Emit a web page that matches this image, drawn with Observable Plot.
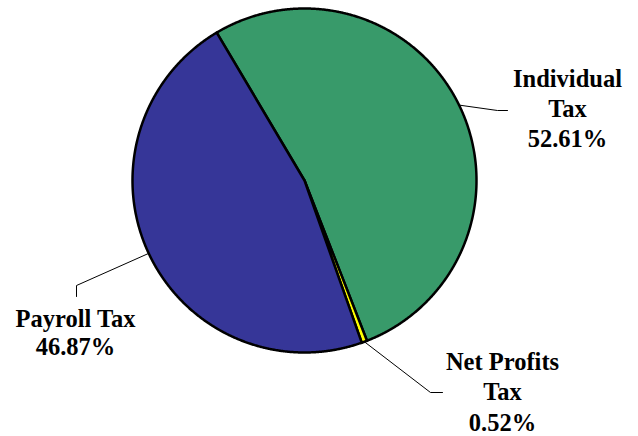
<!DOCTYPE html>
<html>
<head>
<meta charset="utf-8">
<script src="https://cdn.jsdelivr.net/npm/d3@7"></script>
<script src="https://cdn.jsdelivr.net/npm/@observablehq/plot@0.6"></script>
<style>
  html, body { margin: 0; padding: 0; background: #fff; }
  #chart svg { display: block; }
</style>
</head>
<body>
<div id="chart"></div>
<script>
// ---- data ----
const categories = ["Individual Tax", "Net Profits Tax", "Payroll Tax"];
const shares = [52.61, 0.52, 46.87];
const labelLines = [["Individual", "Tax", "52.61%"], ["Net Profits", "Tax", "0.52%"], ["Payroll Tax", "46.87%"]];
const colors = ["#389a6a", "#ffff00", "#363698"];

// ---- layout ----
const W = 638, H = 436;
const cx = 304, cy = 180, R = 172;
const startDeg = -30.7;
const FONT = "Liberation Serif";
const FS = 24.5;
const layout = [
  {elbow: [497, 110], end: [507, 110], tx: 567, ty: 146, lh: 30 / FS},
  {elbow: [430, 392], end: [442, 392], tx: 502, ty: 430, lh: 30.5 / FS},
  {elbow: [76, 285], end: [76, 296], tx: 75, ty: 354, lh: 28 / FS}
];

const pie = d3.pie().sort(null).value(d => d.value).startAngle(startDeg * Math.PI / 180).endAngle(startDeg * Math.PI / 180 + 2 * Math.PI);
const arcs = pie(categories.map((c, i) => ({name: c, value: shares[i], color: colors[i]})));

const pt = a => [cx + R * Math.sin(a), cy - R * Math.cos(a)];
const slicePts = [];
arcs.forEach(a => {
  slicePts.push({name: a.data.name, color: a.data.color, x: cx, y: cy});
  const n = Math.max(2, Math.ceil((a.endAngle - a.startAngle) / (0.25 * Math.PI / 180)));
  for (let k = 0; k <= n; k++) {
    const ang = a.startAngle + (a.endAngle - a.startAngle) * k / n;
    const [x, y] = pt(ang);
    slicePts.push({name: a.data.name, color: a.data.color, x, y});
  }
  slicePts.push({name: a.data.name, color: a.data.color, x: cx, y: cy});
});

const leaderPts = [];
const labels = [];
arcs.forEach((a, i) => {
  const mid = (a.startAngle + a.endAngle) / 2;
  const [x0, y0] = pt(mid);
  const L = layout[i];
  leaderPts.push({name: a.data.name, x: x0, y: y0});
  leaderPts.push({name: a.data.name, x: L.elbow[0], y: L.elbow[1]});
  leaderPts.push({name: a.data.name, x: L.end[0], y: L.end[1]});
  labels.push({text: labelLines[i].join("\n"), x: L.tx, y: L.ty, lh: L.lh});
});

const textMark = l => Plot.text([l], {
  x: "x", y: "y", text: "text", lineAnchor: "bottom", textAnchor: "middle",
  lineHeight: l.lh, fontSize: FS, fontWeight: "bold",
  fontFamily: FONT, fill: "#000"
});

const chart = Plot.plot({
  width: W, height: H,
  margin: 0,
  style: {fontFamily: FONT},
  x: {domain: [0, W], range: [0, W], axis: null},
  y: {domain: [0, H], range: [0, H], axis: null},
  marks: [
    Plot.line(slicePts, {x: "x", y: "y", z: "name", fill: d => d.color, stroke: "#000", strokeWidth: 2.5, strokeLinejoin: "round", curve: "linear"}),
    Plot.line(leaderPts, {x: "x", y: "y", z: "name", stroke: "#000", strokeWidth: 1}),
    ...labels.map(textMark)
  ]
});
document.getElementById("chart").appendChild(chart);
</script>
</body>
</html>
